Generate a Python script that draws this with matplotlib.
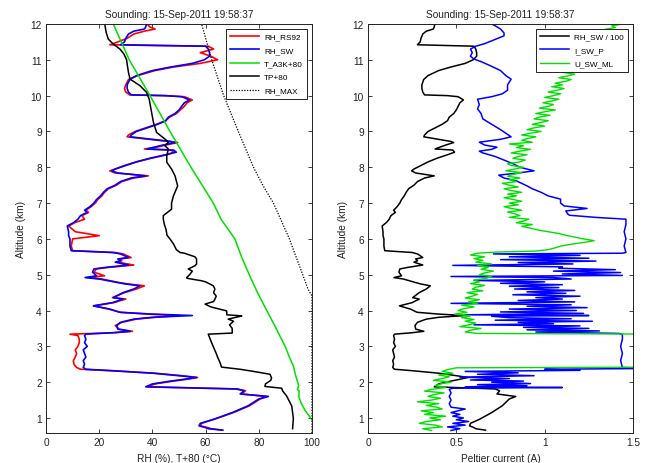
import matplotlib
matplotlib.use("Agg")
import matplotlib.pyplot as plt
import numpy as np

plt.rcParams["font.family"] = ["Liberation Sans", "DejaVu Sans"]

# ---- data: left panel ----
alt_rh = [0.66, 0.70, 0.73, 0.78, 0.85, 0.96, 1.15, 1.34, 1.53, 1.60, 1.67, 1.76,
          1.81, 1.83, 1.87, 1.95, 2.02, 2.08, 2.13, 2.18, 2.25, 2.32, 2.36, 2.41,
          2.50, 2.60, 2.70, 2.80, 2.90, 3.00, 3.10, 3.20, 3.30, 3.34, 3.38, 3.42,
          3.48, 3.58, 3.67, 3.76, 3.81, 3.86, 3.90, 3.95, 4.04, 4.13, 4.22, 4.32,
          4.36, 4.50, 4.60, 4.69, 4.74, 4.78, 4.88, 4.92, 4.97, 5.07, 5.16, 5.20,
          5.27, 5.35, 5.39, 5.44, 5.48, 5.58, 5.62, 5.67, 5.80, 6.00, 6.09, 6.20,
          6.36, 6.46, 6.55, 6.65, 6.74, 6.80, 6.90, 7.00, 7.10, 7.20, 7.30, 7.40,
          7.50, 7.60, 7.70, 7.76, 7.84, 7.90, 7.95, 8.05, 8.15, 8.25, 8.35, 8.42,
          8.48, 8.51, 8.55, 8.62, 8.69, 8.72, 8.78, 8.85, 8.90, 9.00, 9.10, 9.20,
          9.30, 9.40, 9.50, 9.60, 9.70, 9.80, 9.88, 9.97, 10.00, 10.02, 10.10, 10.20,
          10.30, 10.45, 10.56, 10.70, 10.80, 10.90, 11.00, 11.10, 11.20, 11.30, 11.38, 11.40,
          11.42, 11.50, 11.60, 11.72, 11.80, 11.86, 11.92, 12.00]
rh_sw = [66.5, 61, 60, 57.5, 58, 63, 70, 76, 80, 83.6, 73, 74.5,
         72, 60, 37.5, 40, 46, 52, 56.6, 50, 40, 25, 15, 14,
         14.5, 14, 15, 14.5, 14, 15.5, 14.5, 15, 14.5, 15, 25, 31.6,
         27, 26.6, 28, 33, 40, 55, 40, 27.8, 24, 17.8, 25, 29,
         25.3, 29, 33, 35.3, 30, 27, 20, 14.7, 19, 17.5, 18, 22,
         31, 26, 28, 27, 31, 28, 25, 9.5, 9, 9, 8.5, 8.5,
         8, 10.5, 12, 13, 15.5, 14.5, 16.5, 18, 19, 20.5, 21.6, 23,
         26, 28, 32, 37.5, 27, 24.7, 26, 30, 34, 39, 45, 49,
         48, 38, 40, 44, 48.5, 47, 40, 31.6, 32, 34, 38, 42,
         45, 46, 48.5, 50, 51, 52, 54, 51, 45, 32, 31, 30.5,
         30.5, 31.5, 34, 40, 47, 55, 59.5, 61.5, 61.5, 61, 60, 45,
         28, 29.5, 30, 31, 33, 37, 37.5, 37.8]
rh_rs92 = [66, 62, 61, 58, 58.5, 63, 70.5, 76.5, 80.5, 83, 73.5, 75,
           71, 59, 38, 41, 47, 53, 57, 51, 41, 24, 13, 11.5,
           10.5, 10.3, 11, 11.5, 11, 12, 12.5, 12.5, 12, 9, 26, 32.5,
           27.5, 26, 28.5, 34, 41, 50, 38, 28, 23.5, 18, 25.5, 30,
           25, 29.5, 34, 37, 31, 27.5, 21, 15.5, 22, 18, 19, 23,
           33, 27, 28.5, 28, 32, 29, 26, 10, 9.5, 10, 20, 11,
           8.5, 11, 14.5, 13.5, 16, 15, 17, 18.5, 19.5, 21, 22, 23.5,
           26.5, 28.5, 33, 38.5, 26, 24, 26, 29.5, 34, 39.5, 45.5, 48,
           47, 37, 41, 45, 49.5, 46, 39, 30.5, 31, 33.5, 37.5, 41.5,
           45, 46.5, 49, 50.5, 52, 53, 55, 52, 44, 31.5, 30, 29.5,
           30, 31, 34.5, 41, 48, 58, 64.5, 62, 58, 63, 61, 40,
           24, 27, 30.5, 33, 37, 41, 39, 38]

alt_t = [0.60, 0.90, 1.00, 1.20, 1.40, 1.60, 1.75, 1.80, 1.90, 2.00, 2.20, 2.45,
         2.70, 3.00, 3.50, 4.00, 4.50, 5.00, 5.50, 6.00, 6.55, 7.00, 8.00, 9.00,
         10.00, 11.00, 12.00]
t_a3k = [102, 100.5, 99.5, 97.5, 96, 95, 95.2, 94.5, 95, 94.6, 93.8, 93,
         91.5, 89.9, 86.5, 83, 79.5, 76.4, 73.5, 71, 65.8, 62.9, 54.5, 46.6,
         39.1, 31.3, 25.3]

alt_tp = [0.70, 0.98, 1.33, 1.61, 1.75, 1.83, 1.88, 1.95, 2.05, 2.12, 2.22, 2.30,
          2.36, 2.42, 2.55, 2.70, 2.80, 2.99, 3.15, 3.34, 3.37, 3.50, 3.60, 3.70,
          3.76, 3.82, 3.85, 3.88, 3.99, 4.10, 4.18, 4.25, 4.32, 4.40, 4.50, 4.60,
          4.69, 4.80, 4.83, 4.90, 4.92, 5.00, 5.10, 5.16, 5.25, 5.30, 5.44, 5.50,
          5.60, 5.62, 5.70, 5.85, 6.00, 6.10, 6.27, 6.40, 6.55, 6.65, 6.83, 7.00,
          7.20, 7.48, 7.76, 7.95, 8.14, 8.32, 8.51, 8.60, 8.70, 8.79, 8.97, 9.11,
          9.25, 9.53, 9.90, 10.09, 10.28, 10.46, 10.65, 10.84, 11.00, 11.16, 11.30, 11.44,
          11.58, 11.77, 11.95, 12.00]
tp = [92.7, 93, 92.4, 90.5, 89, 88.6, 82.3, 82.5, 84.5, 84.8, 84.2, 78,
      72.9, 66, 65.4, 64.5, 64, 62.9, 62, 61, 70, 70, 69, 70.5,
      68.5, 72, 73.6, 68, 67.9, 62, 59.8, 63, 63.5, 64, 63, 63.5,
      62.9, 60, 58.5, 53, 52.9, 54, 55, 53.5, 56, 56.6, 56.6, 56,
      52, 50.4, 49, 48, 46.6, 45.5, 45.1, 44.5, 44.1, 44.1, 47.2, 47.2,
      47.9, 49.5, 48.5, 47.2, 45.4, 45.4, 46, 44.7, 46, 44.7, 41.6, 41,
      40.4, 39.7, 38.8, 37.8, 35.3, 31.6, 31, 30.6, 30.3, 29.3, 27.8, 25.3,
      23.4, 22.6, 22.2, 22.2]

alt_max = [0.58, 4.40, 4.60, 5.00, 5.50, 6.00, 6.50, 7.00, 7.50, 8.00, 9.00, 10.00,
           11.00, 12.00]
rh_max = [100, 100, 98.5, 96.5, 94, 91.5, 88.5, 85.5, 81.5, 78, 72.3, 66.8,
          62.3, 58.5]

# ---- data: right panel ----
alt_ip = [0.65, 0.70, 0.75, 0.80, 0.85, 0.90, 0.95, 1.00, 1.05, 1.10, 1.15, 1.20,
          1.25, 1.30, 1.40, 1.50, 1.60, 1.70, 1.80, 1.83, 1.85, 1.87, 1.90, 1.93,
          1.96, 2.00, 2.03, 2.06, 2.10, 2.14, 2.18, 2.22, 2.26, 2.30, 2.33, 2.36,
          2.38, 2.41, 2.60, 2.80, 3.00, 3.20, 3.33, 3.36, 3.37, 3.40, 3.43, 3.46,
          3.50, 3.53, 3.57, 3.60, 3.63, 3.67, 3.70, 3.73, 3.77, 3.80, 3.84, 3.86,
          3.88, 3.92, 3.96, 4.00, 4.04, 4.08, 4.12, 4.16, 4.20, 4.24, 4.28, 4.32,
          4.36, 4.40, 4.44, 4.48, 4.52, 4.56, 4.60, 4.64, 4.68, 4.72, 4.76, 4.80,
          4.84, 4.88, 4.92, 4.95, 4.98, 5.02, 5.06, 5.10, 5.14, 5.18, 5.22, 5.26,
          5.30, 5.34, 5.38, 5.42, 5.46, 5.50, 5.54, 5.58, 5.60, 5.62, 5.80, 6.00,
          6.20, 6.40, 6.50, 6.55, 6.60, 6.66, 6.70, 6.78, 6.85, 6.92, 7.00, 7.11,
          7.20, 7.30, 7.40, 7.48, 7.55, 7.62, 7.70, 7.78, 7.84, 7.90, 8.00, 8.10,
          8.20, 8.30, 8.40, 8.45, 8.50, 8.56, 8.62, 8.70, 8.78, 8.85, 8.95, 9.05,
          9.20, 9.35, 9.50, 9.63, 9.75, 9.90, 9.97, 10.05, 10.15, 10.30, 10.46, 10.56,
          10.70, 10.84, 10.95, 11.02, 11.10, 11.20, 11.30, 11.38, 11.45, 11.55, 11.67, 11.75,
          11.86, 11.95, 12.00]
i_sw_p = [0.47, 0.52, 0.45, 0.55, 0.48, 0.57, 0.50, 0.54, 0.48, 0.52, 0.47, 0.51,
          0.55, 0.47, 0.46, 0.47, 0.46, 0.47, 0.46, 0.48, 1.10, 0.55, 0.90, 0.62,
          0.92, 0.70, 0.88, 0.58, 0.80, 0.52, 0.94, 0.62, 0.85, 0.55, 1.20, 1.00,
          1.55, 1.44, 1.43, 1.44, 1.43, 1.44, 1.44, 1.42, 1.30, 0.95, 1.31, 0.90,
          1.25, 0.88, 1.20, 0.60, 1.05, 0.85, 1.27, 0.72, 1.15, 0.80, 0.70, 1.25,
          0.55, 1.22, 0.75, 1.18, 0.80, 1.24, 0.90, 1.15, 0.47, 1.17, 0.85, 1.10,
          0.95, 1.20, 0.82, 1.12, 0.90, 1.17, 0.83, 1.08, 0.80, 1.10, 0.75, 1.00,
          0.60, 1.15, 1.05, 0.47, 1.44, 1.10, 1.43, 1.05, 1.40, 1.08, 1.10, 0.48,
          1.16, 0.85, 1.29, 0.75, 1.25, 0.80, 1.20, 0.71, 1.44, 1.46, 1.45, 1.46,
          1.45, 1.46, 1.46, 1.46, 1.29, 1.14, 1.13, 1.12, 1.24, 1.11, 1.09, 1.09,
          1.02, 0.98, 0.93, 0.90, 0.87, 0.84, 0.77, 0.74, 0.85, 0.94, 0.86, 0.82,
          0.77, 0.72, 0.65, 0.63, 0.70, 0.73, 0.66, 0.63, 0.75, 0.81, 0.78, 0.75,
          0.70, 0.65, 0.64, 0.62, 0.63, 0.62, 0.70, 0.76, 0.79, 0.79, 0.81, 0.78,
          0.75, 0.69, 0.64, 0.60, 0.58, 0.59, 0.58, 0.61, 0.66, 0.71, 0.77, 0.77,
          0.75, 0.72, 0.70]

alt_u = [0.65, 0.70, 0.75, 0.80, 0.85, 0.90, 0.95, 1.00, 1.05, 1.10, 1.15, 1.20,
         1.25, 1.30, 1.35, 1.40, 1.45, 1.50, 1.55, 1.60, 1.65, 1.70, 1.75, 1.80,
         1.85, 1.90, 1.95, 2.00, 2.05, 2.10, 2.15, 2.20, 2.25, 2.30, 2.35, 2.40,
         2.42, 3.34, 3.36, 3.40, 3.45, 3.50, 3.55, 3.60, 3.65, 3.70, 3.75, 3.80,
         3.85, 3.90, 3.95, 4.00, 4.05, 4.10, 4.15, 4.20, 4.25, 4.30, 4.35, 4.40,
         4.45, 4.50, 4.55, 4.60, 4.65, 4.70, 4.75, 4.80, 4.85, 4.90, 4.95, 5.00,
         5.05, 5.10, 5.15, 5.20, 5.25, 5.30, 5.35, 5.40, 5.45, 5.50, 5.55, 5.60,
         5.63, 5.66, 5.70, 5.75, 5.80, 5.85, 5.90, 5.95, 6.00, 6.05, 6.10, 6.15,
         6.20, 6.25, 6.30, 6.35, 6.40, 6.45, 6.50, 6.55, 6.60, 6.65, 6.70, 6.75,
         6.80, 6.85, 6.90, 6.95, 7.00, 7.05, 7.10, 7.15, 7.20, 7.25, 7.30, 7.35,
         7.40, 7.45, 7.50, 7.55, 7.60, 7.65, 7.70, 7.75, 7.80, 7.85, 7.90, 7.95,
         8.00, 8.05, 8.10, 8.15, 8.20, 8.25, 8.30, 8.35, 8.40, 8.45, 8.50, 8.55,
         8.60, 8.65, 8.70, 8.75, 8.80, 8.85, 8.90, 8.95, 9.00, 9.05, 9.10, 9.15,
         9.20, 9.25, 9.30, 9.35, 9.40, 9.45, 9.50, 9.55, 9.60, 9.65, 9.70, 9.75,
         9.80, 9.85, 9.90, 9.95, 10.00, 10.05, 10.10, 10.15, 10.20, 10.25, 10.30, 10.35,
         10.40, 10.45, 10.50, 10.55, 10.60, 10.65, 10.70, 10.75, 10.80, 10.85, 10.90, 10.95,
         11.00, 11.05, 11.10, 11.15, 11.20, 11.25, 11.30, 11.35, 11.40, 11.45, 11.50, 11.55,
         11.60, 11.65, 11.70, 11.75, 11.80, 11.85, 11.90, 11.95, 12.00]
u_sw_ml = [0.36, 0.31, 0.42, 0.38, 0.29, 0.33, 0.41, 0.35, 0.44, 0.32, 0.37, 0.30,
           0.42, 0.39, 0.33, 0.40, 0.28, 0.36, 0.41, 0.34, 0.37, 0.43, 0.32, 0.36,
           0.44, 0.38, 0.41, 0.47, 0.37, 0.42, 0.46, 0.40, 0.48, 0.42, 0.45, 0.50,
           1.70, 1.70, 0.62, 0.55, 0.58, 0.64, 0.52, 0.57, 0.61, 0.55, 0.60, 0.53,
           0.58, 0.49, 0.56, 0.51, 0.54, 0.60, 0.53, 0.62, 0.57, 0.63, 0.55, 0.59,
           0.62, 0.56, 0.65, 0.59, 0.61, 0.66, 0.58, 0.63, 0.60, 0.67, 0.70, 0.63,
           0.66, 0.71, 0.64, 0.68, 0.62, 0.70, 0.61, 0.65, 0.60, 0.66, 0.58, 0.62,
           0.72, 0.95, 1.02, 1.06, 1.09, 1.15, 1.22, 1.28, 1.22, 1.17, 1.12, 1.08,
           1.02, 0.96, 0.92, 0.87, 0.93, 0.84, 0.88, 0.91, 0.80, 0.86, 0.83, 0.79,
           0.87, 0.81, 0.77, 0.85, 0.80, 0.87, 0.82, 0.77, 0.84, 0.79, 0.87, 0.81,
           0.77, 0.85, 0.80, 0.76, 0.84, 0.80, 0.86, 0.79, 0.82, 0.87, 0.78, 0.83,
           0.88, 0.81, 0.79, 0.86, 0.89, 0.82, 0.85, 0.90, 0.81, 0.86, 0.92, 0.84,
           0.88, 0.80, 0.93, 0.87, 0.90, 0.95, 0.87, 0.92, 0.98, 0.90, 0.94, 1.00,
           0.93, 0.98, 1.02, 0.94, 0.97, 1.03, 0.95, 1.00, 1.06, 0.97, 1.02, 1.05,
           0.99, 1.04, 1.08, 1.00, 1.05, 1.09, 1.02, 1.07, 1.11, 1.04, 1.10, 1.06,
           1.12, 1.15, 1.08, 1.13, 1.17, 1.10, 1.19, 1.14, 1.18, 1.22, 1.15, 1.20,
           1.24, 1.18, 1.22, 1.26, 1.20, 1.25, 1.28, 1.22, 1.27, 1.30, 1.25, 1.29,
           1.33, 1.28, 1.35, 1.30, 1.37, 1.34, 1.40, 1.38, 1.44]

title = "Sounding: 15-Sep-2011 19:58:37"
green = "#00e000"
fs = 7.3
fs_leg = 5.9


def style_axes(ax):
    ax.tick_params(direction="in", top=True, right=True, length=3.2, width=0.6,
                   labelsize=fs, pad=3, colors="#222222")
    for s in ax.spines.values():
        s.set_linewidth(0.7)
        s.set_color("#222222")
    ax.set_ylim(0.58, 12)
    ax.set_yticks(range(1, 13))
    ax.set_title(title, fontsize=fs, pad=5, color="#222222")
    ax.set_ylabel("Altitude (km)", fontsize=fs, labelpad=3, color="#222222")


def add_legend(ax):
    leg = ax.legend(loc="upper right", fontsize=fs_leg, fancybox=False, framealpha=1,
                    edgecolor="#222222", handlelength=3.6, handletextpad=0.6,
                    labelspacing=0.7, borderpad=0.5, borderaxespad=0.6)
    leg.get_frame().set_linewidth(0.7)


fig = plt.figure(figsize=(6.46, 4.64), dpi=100)
ax1 = fig.add_axes([46 / 646, 30 / 464, 266 / 646, 409 / 464])
ax2 = fig.add_axes([368 / 646, 30 / 464, 265 / 646, 409 / 464])

# ---- left: humidity and temperature ----
ax1.plot(rh_rs92, alt_rh, color="red", lw=1.2, label="RH_RS92")
ax1.plot(rh_sw, alt_rh, color="blue", lw=1.2, label="RH_SW")
ax1.plot(t_a3k, alt_t, color=green, lw=1.1, label="T_A3K+80")
ax1.plot(tp, alt_tp, color="black", lw=1.1, label="TP+80")
ax1.plot(rh_max, alt_max, color="black", lw=0.9, ls=(0, (1, 1.2)), label="RH_MAX")
ax1.set_xlim(0, 100)
ax1.set_xticks([0, 20, 40, 60, 80, 100])
ax1.set_xlabel("RH (%), T+80 (\u00b0C)", fontsize=fs, labelpad=4, color="#222222")
style_axes(ax1)
add_legend(ax1)

# ---- right: peltier current ----
ax2.plot(np.array(rh_sw) / 100, alt_rh, color="black", lw=1.1, label="RH_SW / 100")
ax2.plot(i_sw_p, alt_ip, color="blue", lw=1.1, label="I_SW_P")
ax2.plot(u_sw_ml, alt_u, color=green, lw=1.0, label="U_SW_ML")
ax2.set_xlim(0, 1.5)
ax2.set_xticks([0, 0.5, 1, 1.5])
ax2.set_xticklabels(["0", "0.5", "1", "1.5"])
ax2.set_xlabel("Peltier current (A)", fontsize=fs, labelpad=4, color="#222222")
style_axes(ax2)
add_legend(ax2)

fig.savefig("out.png", dpi=100)
